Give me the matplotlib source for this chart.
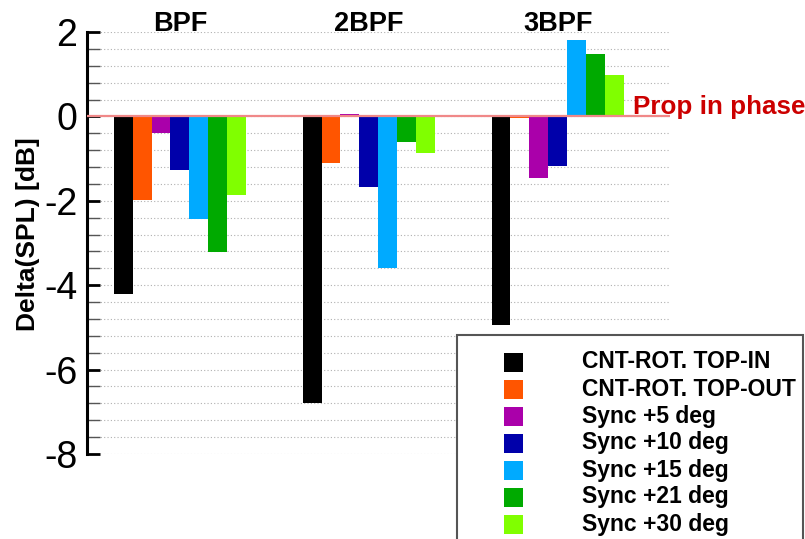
import numpy as np
import matplotlib
matplotlib.use("Agg")
import matplotlib.pyplot as plt
from matplotlib.patches import Rectangle

plt.rcParams['font.family'] = ['Liberation Sans', 'DejaVu Sans']
plt.rcParams['axes.unicode_minus'] = False

groups = ["BPF", "2BPF", "3BPF"]
series = ["CNT-ROT. TOP-IN", "CNT-ROT. TOP-OUT", "Sync +5 deg", "Sync +10 deg",
          "Sync +15 deg", "Sync +21 deg", "Sync +30 deg"]
colors = ["#000000", "#ff5500", "#aa00aa", "#0000aa", "#00aaff", "#00aa00", "#80ff00"]

# delta SPL [dB], one list per series: BPF, 2BPF, 3BPF
top_in = [-4.2, -6.78, -4.95]
top_out = [-1.97, -1.10, -0.04]
sync5 = [-0.39, 0.05, -1.45]
sync10 = [-1.28, -1.68, -1.17]
sync15 = [-2.42, -3.59, 1.80]
sync21 = [-3.22, -0.60, 1.49]
sync30 = [-1.87, -0.87, 0.98]
values = [top_in, top_out, sync5, sync10, sync15, sync21, sync30]

W, H = 805, 539
fig = plt.figure(figsize=(W / 100, H / 100), dpi=100)
ax = fig.add_axes([0.108, 0.1577, 0.724, 0.7829])

x = np.arange(1, len(groups) + 1)
w = 0.1
bars = []
for i, (name, vals, c) in enumerate(zip(series, values, colors)):
    b = ax.bar(x + (i - 3) * w, vals, w, color=c, label=name, zorder=3)
    bars.append(b)

ax.set_xlim(0.508, 3.593)
ax.set_ylim(-8, 2)

# dotted grid every 0.4 dB
for g in np.arange(-8, 2.01, 0.4):
    ax.axhline(g, color='#b0b0b0', lw=0.8, ls=(0, (1, 2)), zorder=1)
ax.axhline(0, color='#f08888', lw=1.6, zorder=4)

ax.set_yticks(np.arange(-8, 2.01, 2))
ax.set_yticks(np.arange(-8, 2.01, 0.4), minor=True)
ax.tick_params(axis='y', which='major', direction='in', length=9, width=2,
               labelsize=27, pad=7)
ax.tick_params(axis='y', which='minor', direction='in', length=9, width=1,
               color='#555555')
ax.set_xticks([])
for s in ['top', 'right', 'bottom']:
    ax.spines[s].set_visible(False)
ax.spines['left'].set_linewidth(2.2)

for xi, g in zip(x, groups):
    ax.text(xi, 2.03, g, ha='center', va='baseline', fontsize=19.5,
            fontweight='bold', clip_on=False)

ax.text(0.937, 0.05, "Prop in phase", transform=ax.get_yaxis_transform(),
        color='#cc0000', fontsize=18.7, fontweight='bold', va='baseline',
        ha='left', clip_on=False, zorder=5)

fig.text(28 / W, 1 - 234 / H, "Delta(SPL) [dB]", rotation=90, ha='center',
         va='center', fontsize=19, fontweight='bold')

# legend box, bottom runs off the figure
fig.patches.append(Rectangle((457 / W, -0.02), (803 - 457) / W, 0.02 + (1 - 335 / H),
                             transform=fig.transFigure, facecolor='white',
                             edgecolor='#555555', lw=1.5, zorder=10))
for i, (b, name) in enumerate(zip(bars, series)):
    yc = 362 + 27 * i
    fig.patches.append(Rectangle((504 / W, 1 - (yc + 9.5) / H), 19 / W, 19 / H,
                                 transform=fig.transFigure,
                                 facecolor=b.patches[0].get_facecolor(),
                                 edgecolor='none', zorder=11))
    fig.text(582 / W, 1 - yc / H, name, ha='left', va='center', fontsize=16.5,
             fontweight='bold', zorder=11)

fig.savefig("out.png", dpi=100)
